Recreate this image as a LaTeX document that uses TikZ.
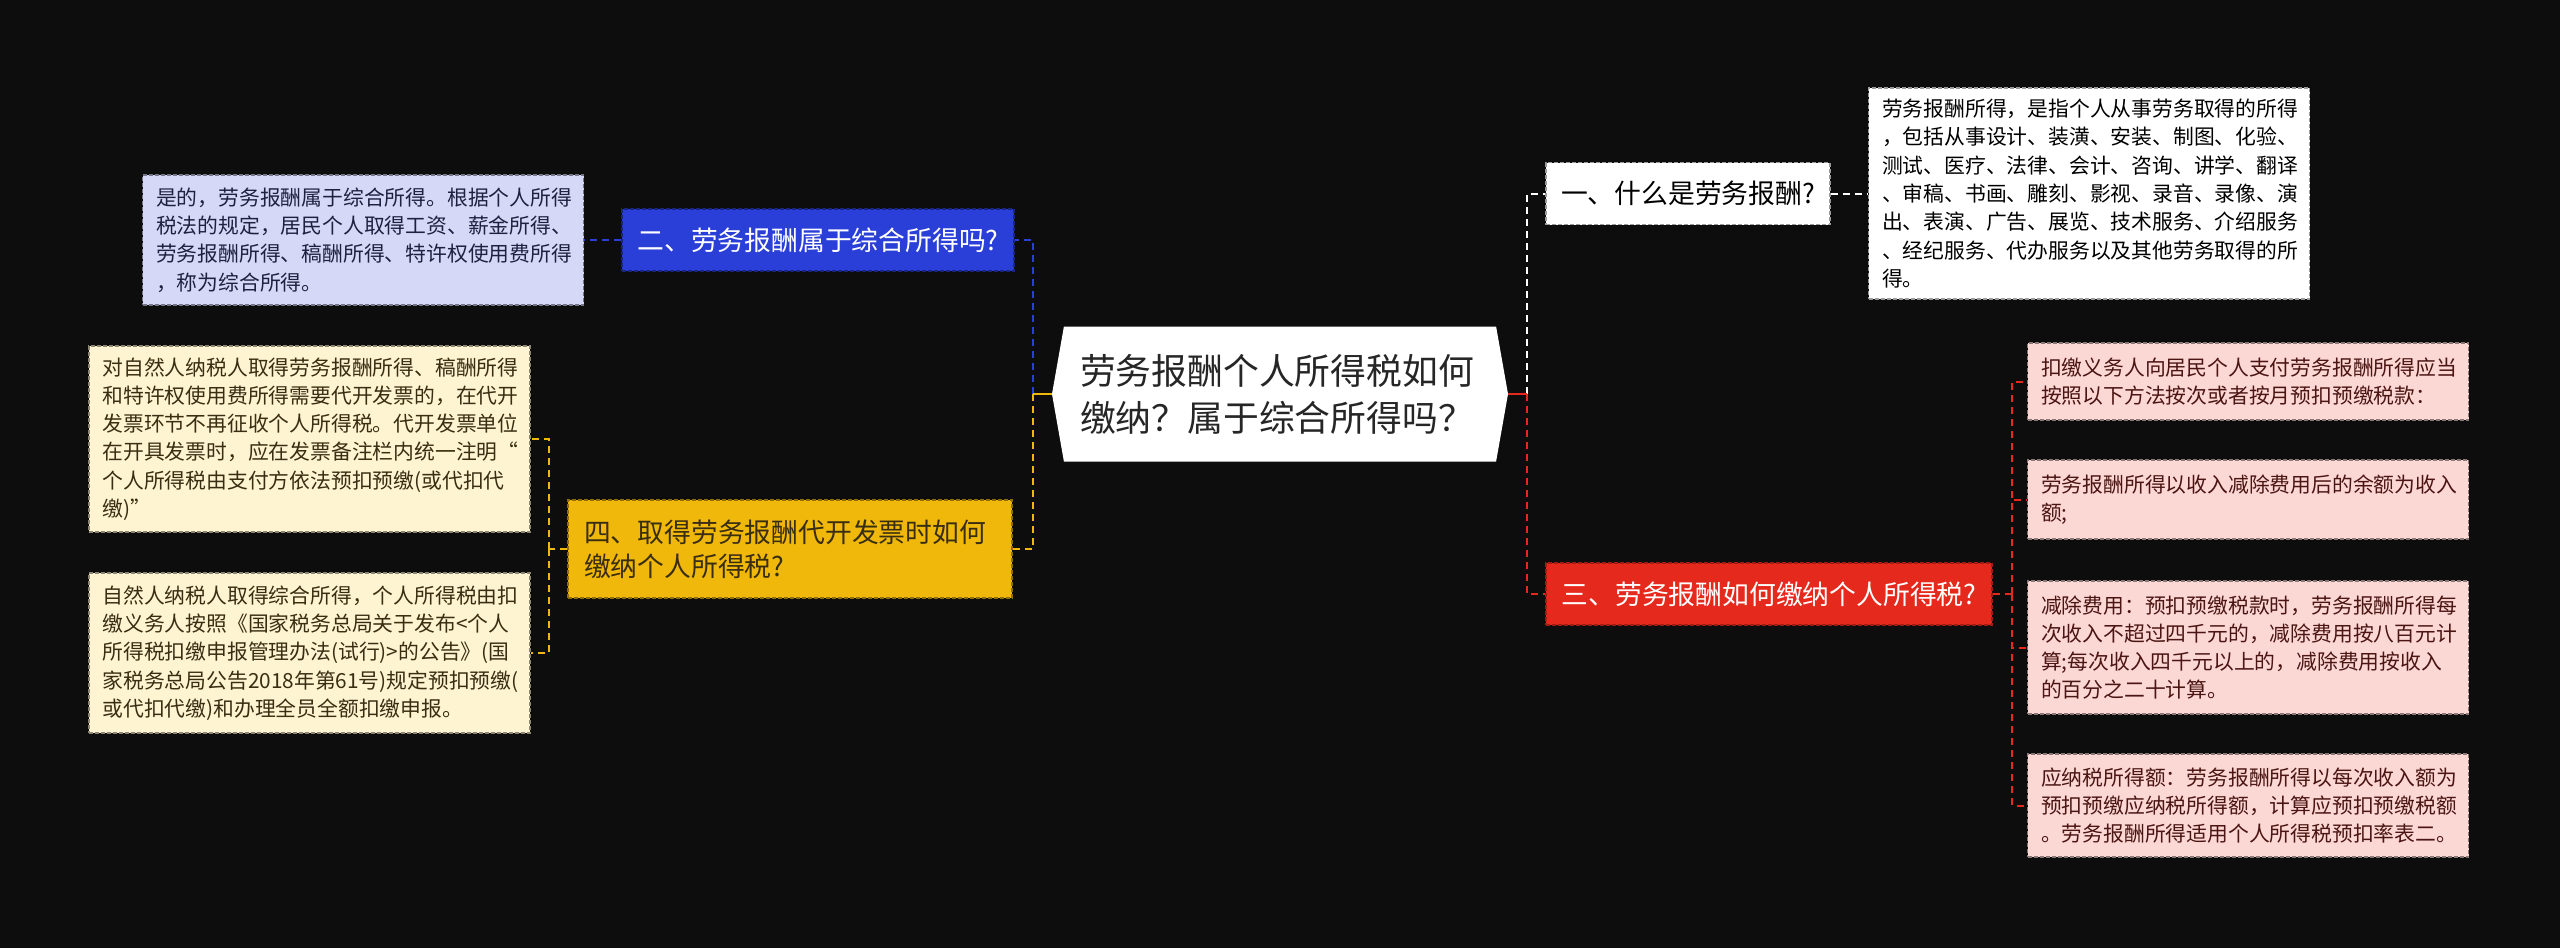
\documentclass[tikz,border=0pt]{standalone}
\usepackage{fontspec}
\setmainfont{Noto Sans CJK SC}
\usepackage{xcolor}
\usetikzlibrary{positioning, shapes.symbols}
\definecolor{bgdark}{HTML}{0D0D0D}
\definecolor{topicblue}{HTML}{2A3ED8}
\definecolor{topicred}{HTML}{E6291D}
\definecolor{topicyellow}{HTML}{F0B80B}
\definecolor{leafblue}{HTML}{D5D8F7}
\definecolor{leafpink}{HTML}{FCD8D5}
\definecolor{leafcream}{HTML}{FFF4D2}
\definecolor{inkblue}{HTML}{1E2140}
\definecolor{inkred}{HTML}{4A1512}
\definecolor{inkbrown}{HTML}{3A2E12}
\definecolor{edgegray}{HTML}{9A9A9A}

\begin{document}
\begin{tikzpicture}[
  x=0.5pt, y=-0.5pt,
  box/.style={draw, dash pattern=on 2pt off 1pt, line width=0.6pt,
    inner sep=0pt, align=left},
  leaf/.style={box, minimum width=220.5pt, text width=207pt,
    font=\fontsize{10.4pt}{14.15pt}\selectfont},
  topic/.style={box, minimum height=31pt,
    font=\fontsize{13.4pt}{17pt}\selectfont},
  link/.style={line width=1pt, dash pattern=on 3.5pt off 2.5pt},
  stub/.style={line width=1pt}
]
  % Background and page size
  \fill[bgdark] (0,0) rectangle (2560,948);
  \useasboundingbox (0,0) rectangle (2560,948);

  % Root
  \node[shape=signal, signal to=west and east, signal pointer angle=160,
    fill=white, minimum width=228pt, minimum height=67.5pt, inner sep=0pt,
    text width=200pt, align=left, text=black!85,
    font=\fontsize{17.9pt}{23.5pt}\selectfont] (root) at (1280,394)
    {劳务报酬个人所得税如何\\缴纳？属于综合所得吗？};

  % Right branch: topics
  \node[topic, fill=white, draw=edgegray, text=black, minimum width=142pt]
    (one) at (1688,193.5) {一、什么是劳务报酬?};
  \node[topic, fill=topicred, draw=topicred!70!black, text=white, minimum width=223pt]
    (three) at (1769,594) {三、劳务报酬如何缴纳个人所得税?};

  % Left branch: topics
  \node[topic, fill=topicblue, draw=topicblue!60!black, text=white, minimum width=196pt]
    (two) at (818,240) {二、劳务报酬属于综合所得吗?};
  \node[topic, fill=topicyellow, draw=topicyellow!60!black, text=inkbrown,
    minimum width=222pt, minimum height=49pt, text width=206pt]
    (four) at (790,549) {四、取得劳务报酬代开发票时如何\\缴纳个人所得税?};

  % Leaves of one
  \node[leaf, fill=white, draw=edgegray, text=black, minimum height=105.5pt]
    (one-a) at (2089,193.5) {劳务报酬所得，是指个人从事劳务取得的所得\\
    ，包括从事设计、装潢、安装、制图、化验、\\
    测试、医疗、法律、会计、咨询、讲学、翻译\\
    、审稿、书画、雕刻、影视、录音、录像、演\\
    出、表演、广告、展览、技术服务、介绍服务\\
    、经纪服务、代办服务以及其他劳务取得的所\\
    得。};

  % Leaves of two
  \node[leaf, fill=leafblue, draw=leafblue!55!black, text=inkblue, minimum height=65pt]
    (two-a) at (363,240) {是的，劳务报酬属于综合所得。根据个人所得\\
    税法的规定，居民个人取得工资、薪金所得、\\
    劳务报酬所得、稿酬所得、特许权使用费所得\\
    ，称为综合所得。};

  % Leaves of three
  \node[leaf, fill=leafpink, draw=leafpink!55!black, text=inkred, minimum height=38.5pt]
    (three-a) at (2248,381.5) {扣缴义务人向居民个人支付劳务报酬所得应当\\
    按照以下方法按次或者按月预扣预缴税款：};
  \node[leaf, fill=leafpink, draw=leafpink!55!black, text=inkred, minimum height=39.5pt]
    (three-b) at (2248,499.5) {劳务报酬所得以收入减除费用后的余额为收入\\
    额;};
  \node[leaf, fill=leafpink, draw=leafpink!55!black, text=inkred, minimum height=66.5pt]
    (three-c) at (2248,647.5) {减除费用：预扣预缴税款时，劳务报酬所得每\\
    次收入不超过四千元的，减除费用按八百元计\\
    算;每次收入四千元以上的，减除费用按收入\\
    的百分之二十计算。};
  \node[leaf, fill=leafpink, draw=leafpink!55!black, text=inkred, minimum height=51.5pt]
    (three-d) at (2248,805.5) {应纳税所得额：劳务报酬所得以每次收入额为\\
    预扣预缴应纳税所得额，计算应预扣预缴税额\\
    。劳务报酬所得适用个人所得税预扣率表二。};

  % Leaves of four
  \node[leaf, fill=leafcream, draw=leafcream!55!black, text=inkbrown, minimum height=93pt]
    (four-a) at (309.5,439) {对自然人纳税人取得劳务报酬所得、稿酬所得\\
    和特许权使用费所得需要代开发票的，在代开\\
    发票环节不再征收个人所得税。代开发票单位\\
    在开具发票时，应在发票备注栏内统一注明“\\
    个人所得税由支付方依法预扣预缴(或代扣代\\
    缴)”};
  \node[leaf, fill=leafcream, draw=leafcream!55!black, text=inkbrown, minimum height=80pt]
    (four-b) at (309.5,653) {自然人纳税人取得综合所得，个人所得税由扣\\
    缴义务人按照《国家税务总局关于发布<个人\\
    所得税扣缴申报管理办法(试行)>的公告》(国\\
    家税务总局公告2018年第61号)规定预扣预缴(\\
    或代扣代缴)和办理全员全额扣缴申报。};

  % Junctions
  \coordinate (lj) at (1033,394);
  \coordinate (rj) at (1527,394);
  \coordinate (lj4) at (549,549);
  \coordinate (rj3) at (2012,594);

  % Root to topics
  \draw[link, topicblue] (lj) |- (two.east);
  \draw[link, topicyellow] (lj) |- (four.east);
  \draw[stub, topicyellow] (root.west) -- (lj);
  \draw[link, white] (rj) |- (one.west);
  \draw[link, topicred] (rj) |- (three.west);
  \draw[stub, topicred] (root.east) -- (rj);

  % Topics to leaves
  \draw[link, white] (one.east) -- (one-a.west);
  \draw[link, topicblue] (two.west) -- (two-a.east);
  \draw[link, topicred] (three.east) -- (rj3);
  \foreach \leaf in {three-a, three-b, three-c, three-d}
    \draw[link, topicred] (rj3) |- (\leaf.west);
  \draw[link, topicyellow] (four.west) -- (lj4);
  \foreach \leaf in {four-a, four-b}
    \draw[link, topicyellow] (lj4) |- (\leaf.east);
\end{tikzpicture}
\end{document}
